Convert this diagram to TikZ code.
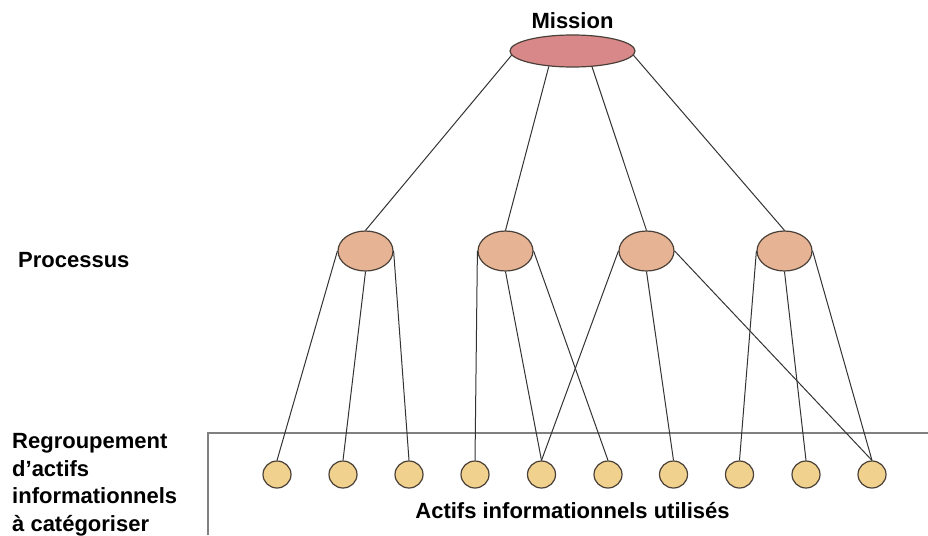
\documentclass[tikz,border=0pt]{standalone}
\usepackage{fontspec}
\setmainfont{Liberation Sans}
\usetikzlibrary{shapes.geometric}
\definecolor{missionfill}{RGB}{217,136,138}
\definecolor{procfill}{RGB}{230,179,148}
\definecolor{assetfill}{RGB}{240,210,142}
\definecolor{shapeline}{RGB}{74,64,56}
\definecolor{edgeline}{RGB}{51,51,51}
\definecolor{boxline}{RGB}{128,128,128}

\begin{document}
\begin{tikzpicture}[x=1pt,y=-1pt]

    \tikzset{
      LabelStyle/.style = { inner sep = 0pt,
                          font = \fontsize{22}{27.7}\selectfont\bfseries },
      MissionStyle/.style = { ellipse, draw = shapeline, line width = 1.2pt,
                          fill = missionfill, inner sep = 0pt,
                          minimum width = 125pt, minimum height = 32pt },
      ProcStyle/.style = { MissionStyle, fill = procfill,
                          minimum width = 55pt, minimum height = 40pt },
      AssetStyle/.style = { MissionStyle, fill = assetfill,
                          minimum width = 28pt, minimum height = 27pt },
      EdgeStyle/.style = { draw = edgeline, line width = 1pt } }
    \useasboundingbox (0,0) rectangle (928,535);

    \draw[boxline, line width = 1.5pt] (208,535) -- (208,433) -- (928,433);

    \node[LabelStyle, anchor = base] (lmission) at (572.5,29) {Mission};
    \node[LabelStyle, anchor = base west] (lproc) at (18,267) {Processus};
    \node[LabelStyle, anchor = north west, align = left] (lgroup) at (12,433)
      {Regroupement\\d’actifs\\informationnels\\à catégoriser};
    \node[LabelStyle, anchor = base] (lassets) at (572.5,518)
      {Actifs informationnels utilisés};

    \node[MissionStyle] (mission) at (572.5,51) {};

    \node[ProcStyle] (p1) at (365.5,251) {};
    \node[ProcStyle] (p2) at (505.5,251) {};
    \node[ProcStyle] (p3) at (646.5,251) {};
    \node[ProcStyle] (p4) at (784.5,251) {};

    \node[AssetStyle] (a1) at (277,474.5) {};
    \node[AssetStyle] (a2) at (343,474.5) {};
    \node[AssetStyle] (a3) at (409,474.5) {};
    \node[AssetStyle] (a4) at (475,474.5) {};
    \node[AssetStyle] (a5) at (541.5,474.5) {};
    \node[AssetStyle] (a6) at (608,474.5) {};
    \node[AssetStyle] (a7) at (673.5,474.5) {};
    \node[AssetStyle] (a8) at (739.5,474.5) {};
    \node[AssetStyle] (a9) at (806,474.5) {};
    \node[AssetStyle] (a10) at (872,474.5) {};

    \draw[EdgeStyle] (mission.184) -- (p1.north);
    \draw[EdgeStyle] (mission.213) -- (p2.north);
    \draw[EdgeStyle] (mission.321) -- (p3.north);
    \draw[EdgeStyle] (mission.356) -- (p4.north);

    \draw[EdgeStyle] (p1.west) -- (a1.north);
    \draw[EdgeStyle] (p1.south) -- (a2.north);
    \draw[EdgeStyle] (p1.east) -- (a3.north);

    \draw[EdgeStyle] (p2.west) -- (a4.north);
    \draw[EdgeStyle] (p2.south) -- (a5.north);
    \draw[EdgeStyle] (p2.east) -- (a6.north);

    \draw[EdgeStyle] (p3.west) -- (a5.north);
    \draw[EdgeStyle] (p3.south) -- (a7.north);
    \draw[EdgeStyle] (p3.east) -- (a10.north);

    \draw[EdgeStyle] (p4.west) -- (a8.north);
    \draw[EdgeStyle] (p4.south) -- (a9.north);
    \draw[EdgeStyle] (p4.east) -- (a10.north);

\end{tikzpicture}
\end{document}
